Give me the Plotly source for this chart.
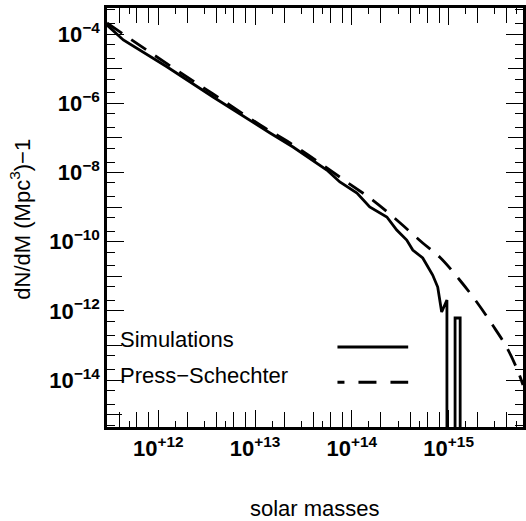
import plotly.graph_objects as go

# halo mass function: simulation histogram vs Press-Schechter prediction
sim_mass = [2.96e11, 4.36e11, 1.24e12, 3.69e12, 1.43e13, 2.47e13, 5.52e13, 7.52e13,
            1.13e14, 1.53e14, 2.30e14, 2.91e14, 3.69e14, 4.26e14, 5.40e14, 6.84e14,
            7.71e14, 8.47e14, 9.60e14, 9.60e14, 1.165e15, 1.165e15, 1.315e15, 1.315e15,
            2.0e15, 6.0e15]
# empty bins (zero counts) are stored as 1e-20 so the line drops off the axis
sim_dndm = [1.83e-4, 6.75e-5, 1.12e-5, 1.52e-6, 1.39e-7, 5.46e-8, 1.18e-8, 5.31e-9,
            2.56e-9, 1.01e-9, 5.18e-10, 2.18e-10, 1.12e-10, 5.75e-11, 3.38e-11, 1.09e-11,
            4.90e-12, 9.29e-13, 2.07e-12, 1e-20, 1e-20, 6.24e-13, 6.24e-13, 1e-20,
            1e-20, 1e-20]

ps_mass = [2.96e11, 1.24e12, 3.69e12, 1.13e13, 2.30e13, 4.68e13, 8.87e13, 1.64e14,
           2.91e14, 5.40e14, 8.07e14, 1.30e15, 1.95e15, 2.84e15, 3.96e15, 5.14e15, 5.86e15]
ps_dndm = [2.09e-4, 1.37e-5, 1.86e-6, 2.36e-7, 7.13e-8, 1.88e-8, 5.31e-9, 1.60e-9,
           4.24e-10, 9.16e-11, 3.61e-11, 7.82e-12, 1.81e-12, 3.91e-13, 9.06e-14, 1.96e-14, 7.21e-15]

x_exponents = [12, 13, 14, 15]
y_label_exponents = [-14, -12, -10, -8, -6, -4]
y_odd_exponents = [-15, -13, -11, -9, -7, -5]

FONT = "Liberation Sans, Arial, Helvetica, sans-serif"

fig = go.Figure()
fig.add_trace(go.Scatter(x=sim_mass, y=sim_dndm, mode="lines",
                         line=dict(color="black", width=2.8), name="Simulations"))
fig.add_trace(go.Scatter(x=ps_mass, y=ps_dndm, mode="lines", line_shape="spline",
                         line=dict(color="black", width=2.8, dash="18px,11px"),
                         name="Press-Schechter"))
# empty trace so the overlay axes (extra tick marks) get drawn
fig.add_trace(go.Scatter(x=[], y=[], xaxis="x2", yaxis="y2", showlegend=False))

# labelled decades + short ticks on the main axes
x_vals = [10.0 ** n for n in x_exponents]
x_text = [f"10<sup>+{n}</sup>" for n in x_exponents]
x_minor = [m * 10.0 ** n for n in range(11, 16) for m in [1.5, 3, 5]]
# tall unlabelled ticks on the overlay axis
x_tall = [m * 10.0 ** n for n in range(11, 16) for m in [2, 4, 6, 8]]

y_vals = [10.0 ** e for e in y_label_exponents]
y_text = [f"10<sup>\u2212{-e}</sup>" for e in y_label_exponents]
y_minor = [m * 10.0 ** e for e in range(-16, -2) for m in [2, 5]]
y_tall = [10.0 ** e for e in y_odd_exponents]

axis_common = dict(
    type="log", showgrid=False, zeroline=False, automargin=False,
    showline=True, linecolor="black", linewidth=2.5, mirror="allticks",
    ticks="inside", tickcolor="black", tickwidth=1, tickmode="array",
    tickfont=dict(family=FONT, size=22, color="black", weight="bold"),
)
x_range = [11.471, 15.768]
y_range = [-15.355, -3.246]

fig.update_layout(
    width=526, height=521,
    margin=dict(l=107, r=3, t=8, b=94),
    paper_bgcolor="white", plot_bgcolor="white",
    showlegend=False,
    font=dict(family=FONT, size=22, color="black"),
    xaxis=dict(axis_common, range=x_range, tickvals=x_vals, ticktext=x_text, ticklen=17,
               minor=dict(tickmode="array", tickvals=x_minor, ticks="inside",
                          ticklen=6, tickcolor="black", tickwidth=1)),
    yaxis=dict(axis_common, range=y_range, tickvals=y_vals, ticktext=y_text, ticklen=17,
               minor=dict(tickmode="array", tickvals=y_minor, ticks="inside",
                          ticklen=8, tickcolor="black", tickwidth=1)),
    xaxis2=dict(axis_common, overlaying="x", matches="x", range=x_range, side="bottom",
                tickvals=x_tall, showticklabels=False, ticklen=15),
    yaxis2=dict(axis_common, overlaying="y", matches="y", range=y_range, side="left",
                tickvals=y_tall, showticklabels=False, ticklen=15),
)

# axis titles
fig.add_annotation(text="solar masses", xref="paper", yref="paper", x=0.5, y=-0.195,
                   showarrow=False, xanchor="center", yanchor="middle")
fig.add_annotation(text="dN/dM (Mpc<sup>3</sup>)\u22121", xref="paper", yref="paper",
                   x=-0.208, y=0.496, textangle=-90, showarrow=False,
                   xanchor="center", yanchor="middle")

# legend drawn by hand: text on the left, line sample on the right
fig.add_annotation(text="Simulations", xref="paper", yref="paper", x=0.026, y=0.208,
                   showarrow=False, xanchor="left", yanchor="middle")
fig.add_annotation(text="Press\u2212Schechter", xref="paper", yref="paper", x=0.026, y=0.124,
                   showarrow=False, xanchor="left", yanchor="middle")
fig.add_shape(type="line", xref="paper", yref="paper", x0=0.554, x1=0.724, y0=0.191, y1=0.191,
              line=dict(color="black", width=3))
fig.add_shape(type="line", xref="paper", yref="paper", x0=0.554, x1=0.724, y0=0.107, y1=0.107,
              line=dict(color="black", width=3, dash="7px,14px,18px,14px,18px"))

# drop the browser's default 8px body margin so the figure sits at the page corner
fig.write_html("out.html", config={"displayModeBar": False},
               post_script="document.body.style.margin = '0px';")
